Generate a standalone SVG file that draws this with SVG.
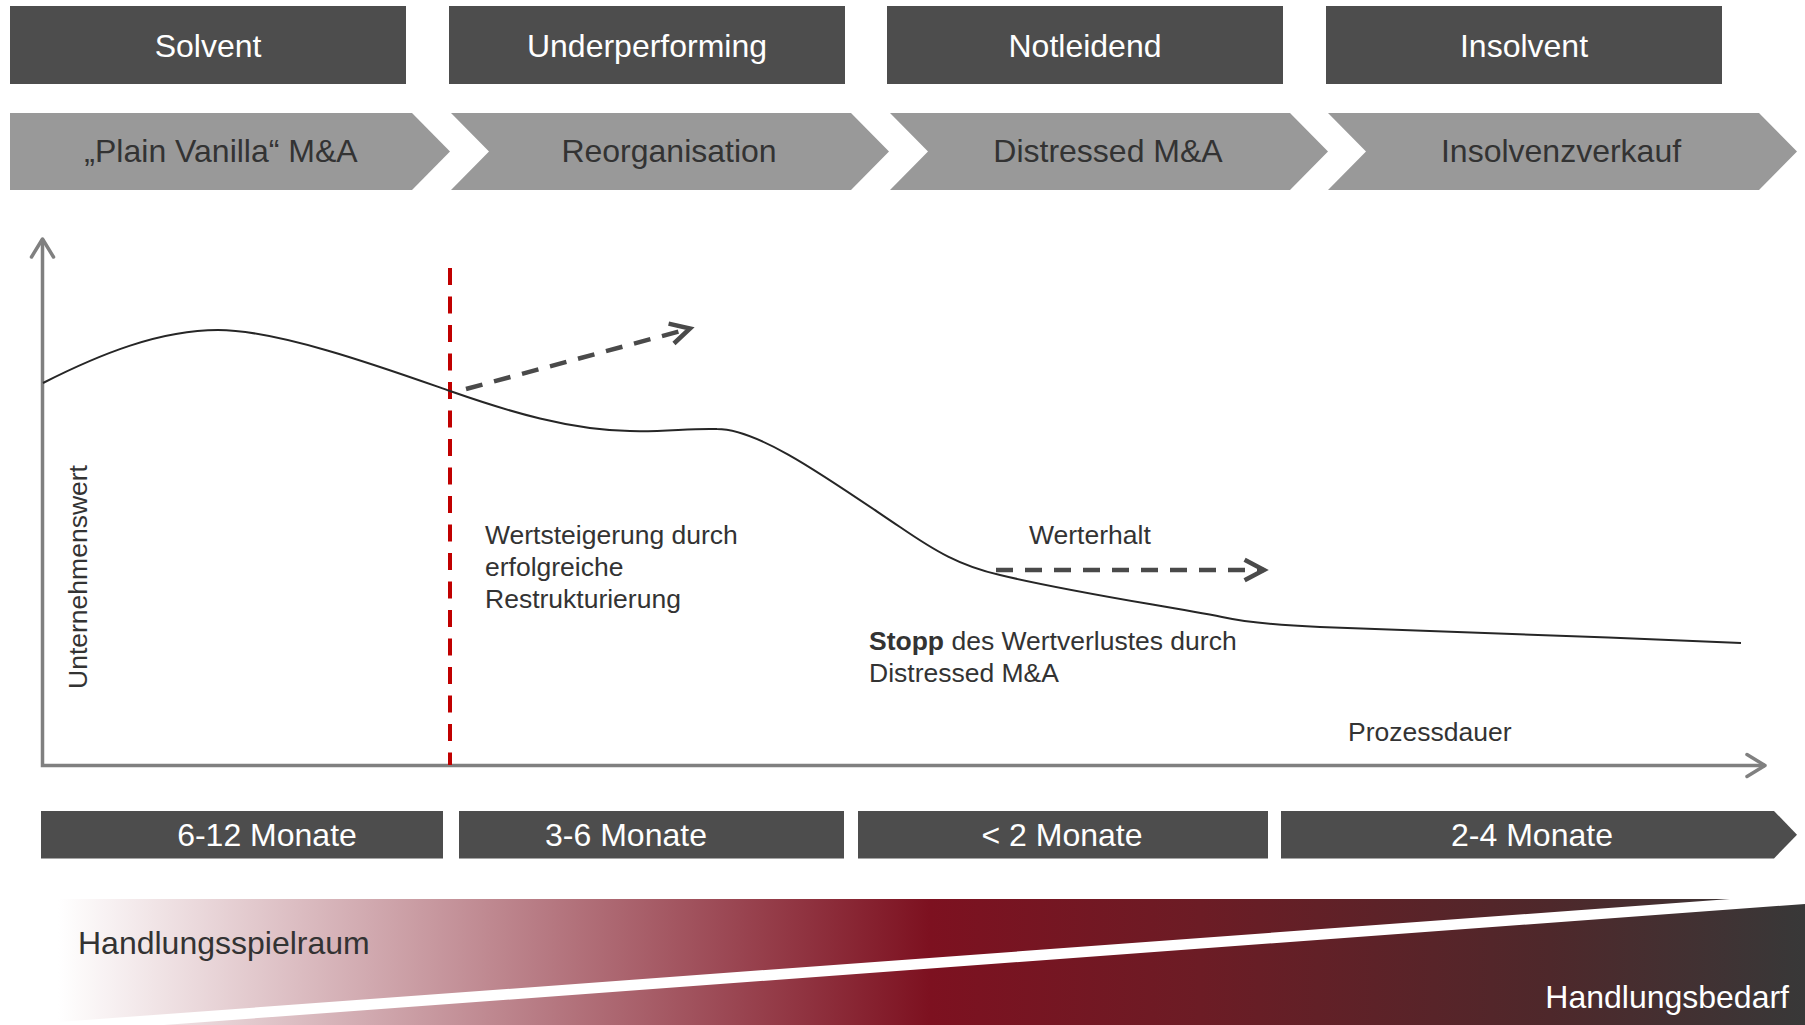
<svg xmlns="http://www.w3.org/2000/svg" width="1805" height="1025" viewBox="0 0 1805 1025">
  <style>
    .t { font-family: "Liberation Sans", Arial, sans-serif; }
    .hdr { fill: #4d4d4d; }
    .hdrtxt { font-size: 32px; fill: #ffffff; text-anchor: middle; }
    .chev { fill: #999999; }
    .chevtxt { font-size: 32px; fill: #333333; text-anchor: middle; }
    .lbl { font-size: 26.5px; fill: #333333; }
    .axis { fill: none; stroke: #808080; stroke-width: 3.5; }
    .curve { fill: none; stroke: #262626; stroke-width: 2; }
    .dash { fill: none; stroke: #4a4a4a; stroke-width: 4.5; stroke-dasharray: 17 12; }
    .red { fill: none; stroke: #c00000; stroke-width: 4; stroke-dasharray: 17 11.5; }
  </style>
  <defs>
    <marker id="axisArrow" markerUnits="userSpaceOnUse" markerWidth="50" markerHeight="50" refX="0" refY="0" orient="auto-start-reverse" overflow="visible">
      <path d="M-18,-11 L0,0 L-18,11" fill="none" stroke="#808080" stroke-width="3.5" stroke-linecap="round" stroke-linejoin="round"/>
    </marker>
    <marker id="dashArrow" markerUnits="userSpaceOnUse" markerWidth="50" markerHeight="50" refX="0" refY="0" orient="auto" overflow="visible">
      <path d="M-19.4,-10.3 L0,0 L-19.4,10.3" fill="none" stroke="#4a4a4a" stroke-width="4.5" stroke-linecap="butt" stroke-linejoin="miter"/>
    </marker>
    <linearGradient id="band" gradientUnits="userSpaceOnUse" x1="58" y1="0" x2="1805" y2="0">
      <stop offset="0" stop-color="#ffffff"/>
      <stop offset="0.1385" stop-color="#dbbcc1"/>
      <stop offset="0.499" stop-color="#7d1120"/>
      <stop offset="0.654" stop-color="#6c1c25"/>
      <stop offset="0.854" stop-color="#4e282b"/>
      <stop offset="1" stop-color="#383838"/>
    </linearGradient>
  </defs>

  <!-- Phase header boxes -->
  <g id="node-solvent">
    <rect class="hdr" x="10" y="6" width="396" height="78"/>
    <text class="t hdrtxt" x="208" y="57">Solvent</text>
  </g>
  <g id="node-underperforming">
    <rect class="hdr" x="449" y="6" width="396" height="78"/>
    <text class="t hdrtxt" x="647" y="57">Underperforming</text>
  </g>
  <g id="node-notleidend">
    <rect class="hdr" x="887" y="6" width="396" height="78"/>
    <text class="t hdrtxt" x="1085" y="57">Notleidend</text>
  </g>
  <g id="node-insolvent">
    <rect class="hdr" x="1326" y="6" width="396" height="78"/>
    <text class="t hdrtxt" x="1524" y="57">Insolvent</text>
  </g>

  <!-- Process chevrons -->
  <g id="node-plain-vanilla">
    <polygon class="chev" points="10,113 412,113 450,151.5 412,190 10,190"/>
    <text class="t chevtxt" x="221" y="162">„Plain Vanilla“ M&amp;A</text>
  </g>
  <g id="node-reorganisation">
    <polygon class="chev" points="451,113 851,113 889,151.5 851,190 451,190 489,151.5"/>
    <text class="t chevtxt" x="669" y="162">Reorganisation</text>
  </g>
  <g id="node-distressed">
    <polygon class="chev" points="890,113 1290,113 1328,151.5 1290,190 890,190 928,151.5"/>
    <text class="t chevtxt" x="1108" y="162">Distressed M&amp;A</text>
  </g>
  <g id="node-insolvenzverkauf">
    <polygon class="chev" points="1328,113 1759,113 1797,151.5 1759,190 1328,190 1366,151.5"/>
    <text class="t chevtxt" x="1561" y="162">Insolvenzverkauf</text>
  </g>

  <!-- Chart: axes, curve, connectors -->
  <g id="connectors">
    <polyline class="axis" points="42.5,239 42.5,765.5 1765,765.5" marker-start="url(#axisArrow)" marker-end="url(#axisArrow)"/>
    <line class="red" x1="450" y1="268" x2="450" y2="765"/>
    <path class="curve" d="M43,383 C100,354 160,330 218,330 C280,330 390,370 450,391 C510,412 570,430 630,431 C665,432 690,428 717,429 C760,429 830,480 900,527 C935,551 960,566 1000,575 C1070,592 1160,605 1222,617 C1245,622 1270,625 1320,627 C1450,631 1600,637 1741,643"/>
    <line class="dash" x1="466" y1="389" x2="690" y2="328.5" marker-end="url(#dashArrow)"/>
    <line class="dash" x1="996" y1="570" x2="1264" y2="570" marker-end="url(#dashArrow)"/>
  </g>

  <g id="chart-labels">
    <text class="t lbl" transform="translate(87,577) rotate(-90)" text-anchor="middle">Unternehmenswert</text>
    <text class="t lbl" x="485" y="544">Wertsteigerung durch</text>
    <text class="t lbl" x="485" y="576">erfolgreiche</text>
    <text class="t lbl" x="485" y="608">Restrukturierung</text>
    <text class="t lbl" x="1029" y="544">Werterhalt</text>
    <text class="t lbl" x="869" y="650"><tspan font-weight="bold">Stopp</tspan> des Wertverlustes durch</text>
    <text class="t lbl" x="869" y="682">Distressed M&amp;A</text>
    <text class="t lbl" x="1348" y="741">Prozessdauer</text>
  </g>

  <!-- Duration bars -->
  <g id="node-6-12">
    <rect class="hdr" x="41" y="811" width="402" height="47.5"/>
    <text class="t hdrtxt" x="267" y="846">6-12 Monate</text>
  </g>
  <g id="node-3-6">
    <rect class="hdr" x="459" y="811" width="385" height="47.5"/>
    <text class="t hdrtxt" x="626" y="846">3-6 Monate</text>
  </g>
  <g id="node-lt2">
    <rect class="hdr" x="858" y="811" width="410" height="47.5"/>
    <text class="t hdrtxt" x="1062" y="846">&lt; 2 Monate</text>
  </g>
  <g id="node-2-4">
    <polygon class="hdr" points="1281,811 1774,811 1797,834.7 1774,858.5 1281,858.5"/>
    <text class="t hdrtxt" x="1532" y="846">2-4 Monate</text>
  </g>

  <!-- Bottom band -->
  <g id="node-handlungsspielraum">
    <polygon points="58,899 1730,899 58,1022" fill="url(#band)"/>
    <text class="t" x="78" y="954" font-size="32" fill="#333333">Handlungsspielraum</text>
  </g>
  <g id="node-handlungsbedarf">
    <polygon points="164,1025 1805,904 1805,1025" fill="url(#band)"/>
    <text class="t" x="1789" y="1008" font-size="32" fill="#ffffff" text-anchor="end">Handlungsbedarf</text>
  </g>
</svg>
